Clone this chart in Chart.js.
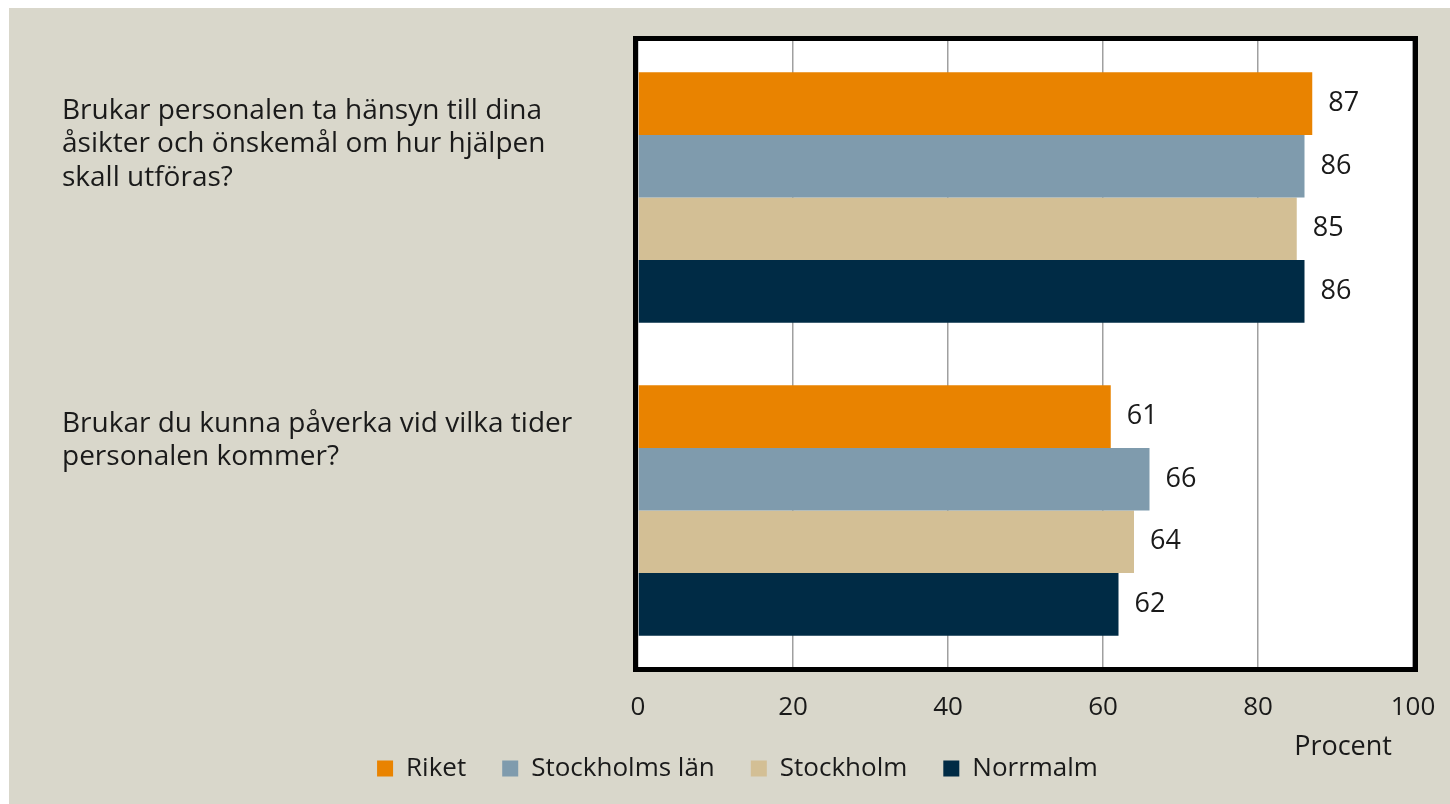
<!DOCTYPE html>
<html>
<head>
<meta charset="utf-8">
<script src="https://cdn.jsdelivr.net/npm/chart.js@4"></script>
<style>
  html, body { margin: 0; padding: 0; background: #ffffff; }
  #wrap { position: absolute; left: 9px; top: 8px; width: 1441px; height: 796px; background: #d9d7cb; }
</style>
</head>
<body>
<div id="wrap"><canvas id="chart_div"></canvas></div>
<script>
// frågor (kategorier), en rad per array-element
const questions = [
  ['Brukar personalen ta hänsyn till dina', 'åsikter och önskemål om hur hjälpen', 'skall utföras?'],
  ['Brukar du kunna påverka vid vilka tider', 'personalen kommer?', '']
];
const seriesNames = ['Riket', 'Stockholms län', 'Stockholm', 'Norrmalm'];
const riket = [87, 61];
const stockholmsLan = [86, 66];
const stockholm = [85, 64];
const norrmalm = [86, 62];
const xMin = 0, xMax = 100, xStep = 20;
const xTitle = 'Procent';

const colors = ['#e98300', '#7f9bad', '#d3bf95', '#002b45'];
const textColor = '#1a1a1a';
const fontFamily = '"Open Sans"';

// ===========================================================================

const plotBackground = {
  id: 'plotBackground',
  beforeDraw(chart) {
    const { ctx, chartArea: a } = chart;
    ctx.save();
    ctx.fillStyle = '#ffffff';
    ctx.fillRect(a.left, a.top, a.right - a.left, a.bottom - a.top);
    ctx.restore();
  }
};

const plotFrame = {
  id: 'plotFrame',
  afterDraw(chart) {
    const { ctx, chartArea: a } = chart;
    ctx.save();
    ctx.strokeStyle = '#000000';
    ctx.lineWidth = 5;
    ctx.strokeRect(a.left - 2.5, a.top - 2.5, a.right - a.left + 5, a.bottom - a.top + 5);
    ctx.restore();
  }
};

// värdena till höger om staplarna
const valueLabels = {
  id: 'valueLabels',
  afterDatasetsDraw(chart) {
    const ctx = chart.ctx;
    ctx.save();
    ctx.font = '27px ' + fontFamily;
    ctx.fillStyle = textColor;
    ctx.textAlign = 'left';
    ctx.textBaseline = 'middle';
    chart.data.datasets.forEach((ds, i) => {
      chart.getDatasetMeta(i).data.forEach((bar, j) => {
        ctx.fillText(String(ds.data[j]), bar.x + 16, bar.y);
      });
    });
    ctx.restore();
  }
};

function createBarChart(ctx) {
  return new Chart(ctx, {
    type: 'bar',
    data: {
      labels: questions,
      datasets: [riket, stockholmsLan, stockholm, norrmalm].map((d, i) => ({
        label: seriesNames[i],
        data: d,
        backgroundColor: colors[i],
        borderWidth: 0,
        categoryPercentage: 0.8,
        barPercentage: 1.0
      }))
    },
    options: {
      indexAxis: 'y',
      responsive: true,
      maintainAspectRatio: false,
      animation: false,
      layout: { padding: { left: 53, right: 37, top: 33, bottom: 12.5 } },
      scales: {
        x: {
          min: xMin,
          max: xMax,
          border: { display: false },
          grid: { color: '#a0a0a0', lineWidth: 1.5, drawTicks: false },
          afterFit(scale) {
            scale.height = 52.5;
            scale.paddingLeft = 0;
            scale.paddingRight = 0;
          },
          ticks: { stepSize: xStep, padding: 25, color: textColor, font: { family: fontFamily, size: 26 } },
          title: {
            display: true,
            text: xTitle + '   ',
            align: 'end',
            color: textColor,
            font: { family: fontFamily, size: 27 },
            padding: { top: 0, bottom: -43.7 }
          }
        },
        y: {
          border: { display: false },
          grid: { display: false, drawTicks: false },
          afterFit(scale) {
            scale.width = 576;
            scale.paddingTop = 0;
            scale.paddingBottom = 0;
          },
          ticks: {
            crossAlign: 'far',
            labelOffset: -53,
            color: textColor,
            font: { family: fontFamily, size: 28, lineHeight: 1.21 }
          }
        }
      },
      plugins: {
        legend: {
          position: 'bottom',
          labels: {
            boxWidth: 16,
            boxHeight: 16,
            padding: 36,
            color: textColor,
            font: { family: fontFamily, size: 26 }
          }
        },
        tooltip: { enabled: false }
      }
    },
    plugins: [plotBackground, plotFrame, valueLabels]
  });
}

//===========================================================================

document.addEventListener('DOMContentLoaded', () => {
  createBarChart(document.getElementById('chart_div'));
});
</script>
</body>
</html>
